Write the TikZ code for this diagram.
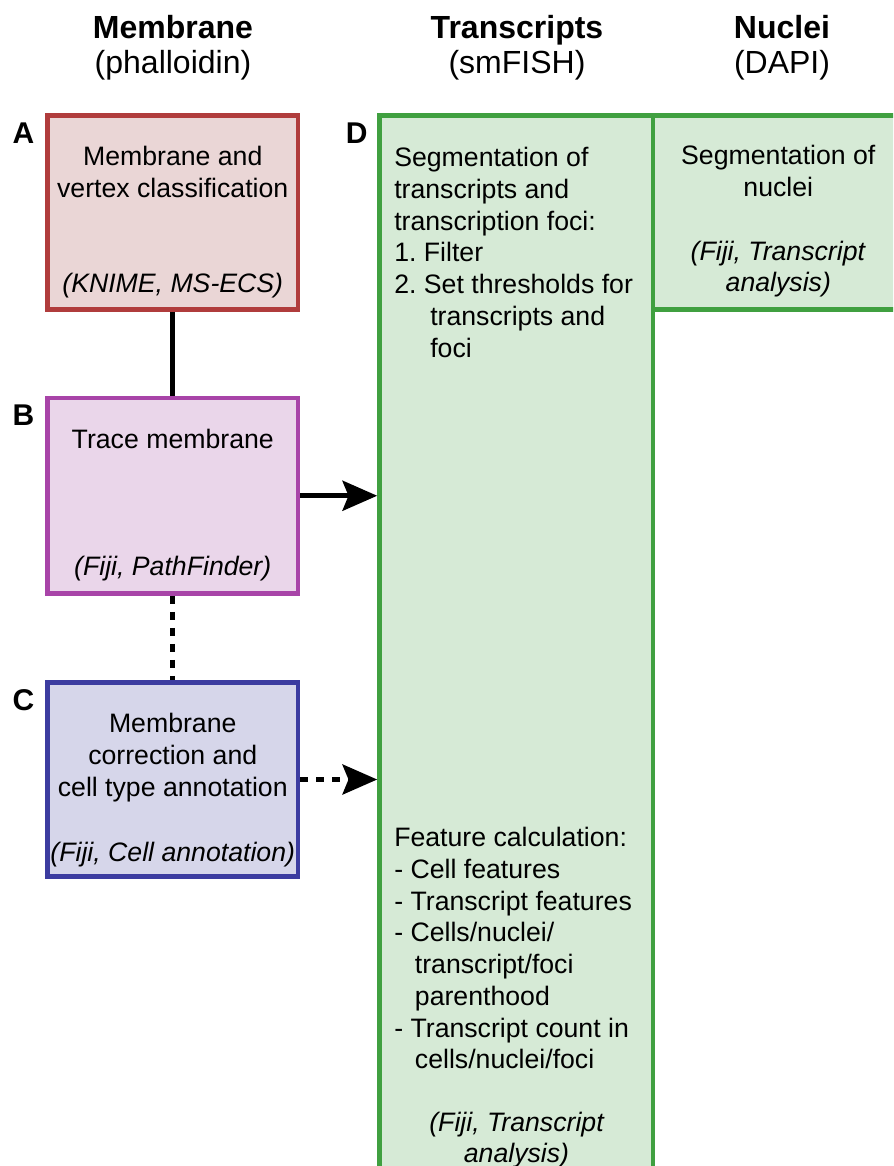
\documentclass[tikz,border=0pt]{standalone}
\usepackage{fontspec}
\setmainfont{Liberation Sans}
\usetikzlibrary{arrows.meta}
\frenchspacing
\definecolor{redline}{RGB}{176,60,60}
\definecolor{redfill}{RGB}{234,214,214}
\definecolor{purpline}{RGB}{168,68,168}
\definecolor{purpfill}{RGB}{234,214,234}
\definecolor{blueline}{RGB}{60,60,160}
\definecolor{bluefill}{RGB}{214,214,234}
\definecolor{greenline}{RGB}{64,160,64}
\definecolor{greenfill}{RGB}{214,234,214}
\tikzset{
  box/.style={draw, line width=3.5pt, inner sep=0pt, minimum width=187.9pt},
  body/.style={font=\fontsize{20}{23.8}\selectfont, inner sep=0pt, anchor=base},
  bodyw/.style={font=\fontsize{20}{23.8}\selectfont, inner sep=0pt, anchor=base west},
  head/.style={font=\fontsize{24}{26.3}\selectfont, inner sep=0pt, anchor=base},
  lab/.style={font=\fontsize{22.5}{26}\selectfont\bfseries, inner sep=0pt, anchor=base},
  conn/.style={line width=3.5pt},
  dotline/.style={line width=3.5pt, dash pattern=on 6pt off 6pt},
  bigtip/.style={-{Stealth[length=26pt, width=22.5pt, inset=4.5pt]}}
}
\begin{document}
\begin{tikzpicture}[x=0.75pt,y=-0.75pt]
\useasboundingbox (0,0) rectangle (893,1166);
\begin{scope}
\clip (0,0) rectangle (893,1166);
% boxes
\node[box, draw=redline, fill=redfill, minimum height=145.5pt] (A) at (172.75,212.5) {};
\node[box, draw=purpline, fill=purpfill, minimum height=146.6pt] (B) at (172.75,495.75) {};
\node[box, draw=blueline, fill=bluefill, minimum height=145.5pt] (C) at (172.75,779.5) {};
\node[box, draw=greenline, fill=greenfill, minimum width=205.1pt, minimum height=798.4pt] (D) at (516.25,647.75) {};
\node[box, draw=greenline, fill=greenfill, minimum width=192.75pt, minimum height=145.5pt] (N) at (781.5,212.5) {};
\end{scope}

% headers
\node[head] (h1) at (173,38.3) {\parbox[t]{200pt}{\centering\textbf{Membrane}\\(phalloidin)}};
\node[head] (h2) at (517,38.3) {\parbox[t]{200pt}{\centering\textbf{Transcripts}\\(smFISH)}};
\node[head] (h3) at (782,38.3) {\parbox[t]{200pt}{\centering\textbf{Nuclei}\\(DAPI)}};

% labels
\node[lab] (la) at (23.5,143.3) {A};
\node[lab] (lb) at (23.5,425.5) {B};
\node[lab] (lc) at (23.5,710) {C};
\node[lab] (ld) at (356.7,143.3) {D};

% box A text
\node[body] (ta) at (172.75,166) {\parbox[t]{185pt}{\centering Membrane and\\vertex classification}};
\node[body] (ta2) at (172.75,292) {\textit{(KNIME, MS-ECS)}};
% box B text
\node[body] (tb) at (172.75,448.3) {Trace membrane};
\node[body] (tb2) at (172.75,575) {\textit{(Fiji, PathFinder)}};
% box C text
\node[body] (tc) at (172.75,732.7) {\parbox[t]{185pt}{\centering Membrane\\correction and\\cell type annotation}};
\node[body] (tc2) at (172.75,861.7) {\textit{(Fiji, Cell annotation)}};
% D text
\node[bodyw] (td1) at (394,166.7) {\parbox[t]{200pt}{\raggedright Segmentation of\\transcripts and\\transcription foci:\\1. Filter\\2. Set thresholds for\\\hspace*{27pt}transcripts and\\\hspace*{27pt}foci}};
\node[bodyw] (td2) at (394,846.7) {\parbox[t]{200pt}{\raggedright Feature calculation:\\- Cell features\\- Transcript features\\- Cells/nuclei/\\\hspace*{15.5pt}transcript/foci\\\hspace*{15.5pt}parenthood\\- Transcript count in\\\hspace*{15.5pt}cells/nuclei/foci}};
\node[body] (td3) at (516.5,1131) {\parbox[t]{200pt}{\centering\itshape (Fiji, Transcript\\analysis)}};
% Nuclei text
\node[body] (tn) at (778.3,165) {\parbox[t]{200pt}{\centering Segmentation of\\nuclei\\[23.8pt]\textit{(Fiji, Transcript}\\\textit{analysis)}}};

% connectors
\draw[conn] (A.south) -- (B.north);
\draw[dotline] (B.south) -- (C.north);
\draw[conn, bigtip] (B.east) -- (B.east -| D.west);
\draw[dotline, bigtip] (C.east) -- (C.east -| D.west);
\end{tikzpicture}
\end{document}
